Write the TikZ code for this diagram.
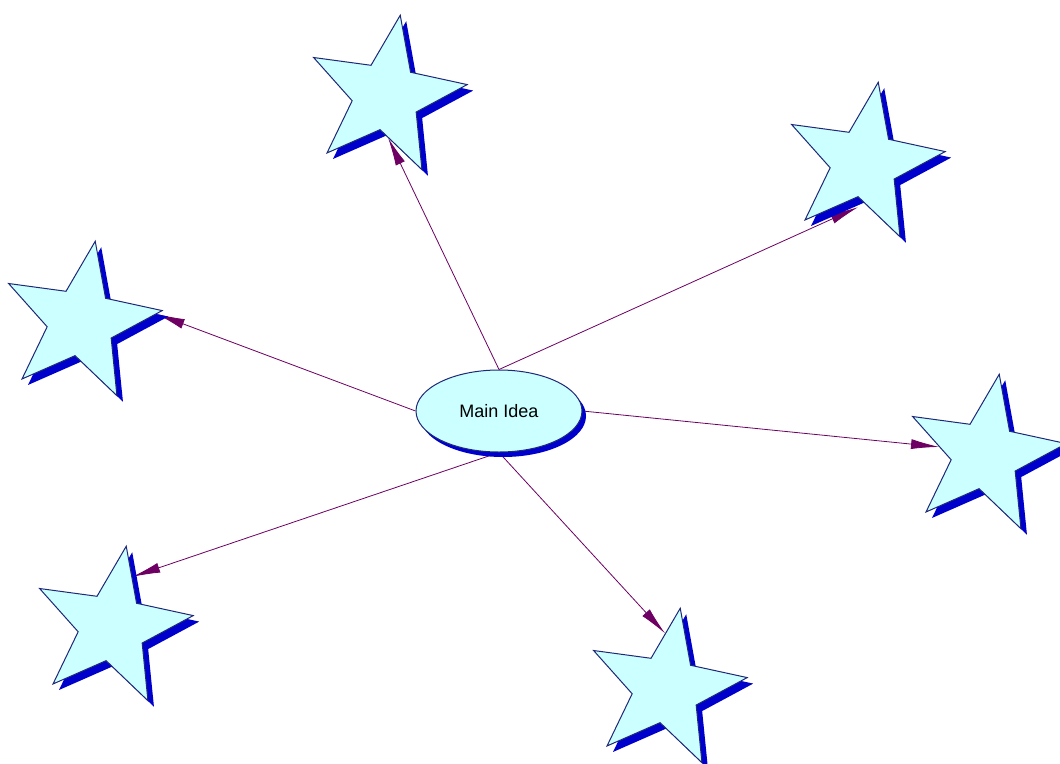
\documentclass[tikz,border=0pt]{standalone}
\usepackage{fontspec}
\setmainfont{Liberation Sans}
\usetikzlibrary{shapes.geometric,shadows,arrows.meta}
\definecolor{fillcyan}{RGB}{204,255,255}
\definecolor{edgeblue}{RGB}{30,40,120}
\definecolor{shadeblue}{RGB}{0,0,205}
\definecolor{arrowpurple}{RGB}{110,0,100}
\pgfdeclarelayer{back}
\pgfsetlayers{back,main}
\begin{document}
\begin{tikzpicture}[x=1pt,y=-1pt,
  starbox/.style={star, star points=5, star point ratio=2.4, minimum size=164pt,
    inner sep=0pt, shape border rotate=-10, fill=fillcyan, draw=edgeblue, line width=1pt,
    general shadow={shadow xshift=6pt, shadow yshift=-6pt, fill=shadeblue}},
  ideabox/.style={ellipse, minimum width=166pt, minimum height=82pt, inner sep=0pt,
    fill=fillcyan, draw=edgeblue, line width=1pt,
    general shadow={shadow xshift=4pt, shadow yshift=-5pt, fill=shadeblue},
    font=\fontsize{18}{20}\selectfont},
  link/.style={draw=arrowpurple, line width=0.8pt, -{Latex[length=28pt,width=10pt]}}
]
\useasboundingbox (0,0) rectangle (1060,763);

\node[ideabox] (main) at (499,411) {Main Idea};

\node[starbox] (s1) at (386,96) {};
\node[starbox] (s2) at (864,163) {};
\node[starbox] (s3) at (81,322) {};
\node[starbox] (s4) at (985,455) {};
\node[starbox] (s5) at (112,627) {};
\node[starbox] (s6) at (666,689) {};

\begin{pgfonlayer}{back}
\fill[white] (0,0) rectangle (1060,763);
\draw[link] (main.north) -- (s1.273);
\draw[link] (main.north) -- ([yshift=-10pt]s2.260);
\draw[link] (main.west) -- (s3.6);
\draw[link] (main.east) -- (s4.170);
\draw[link] (main.south) -- (s5.68);
\draw[link] (main.south) -- (s6.91);
\end{pgfonlayer}
\end{tikzpicture}
\end{document}
